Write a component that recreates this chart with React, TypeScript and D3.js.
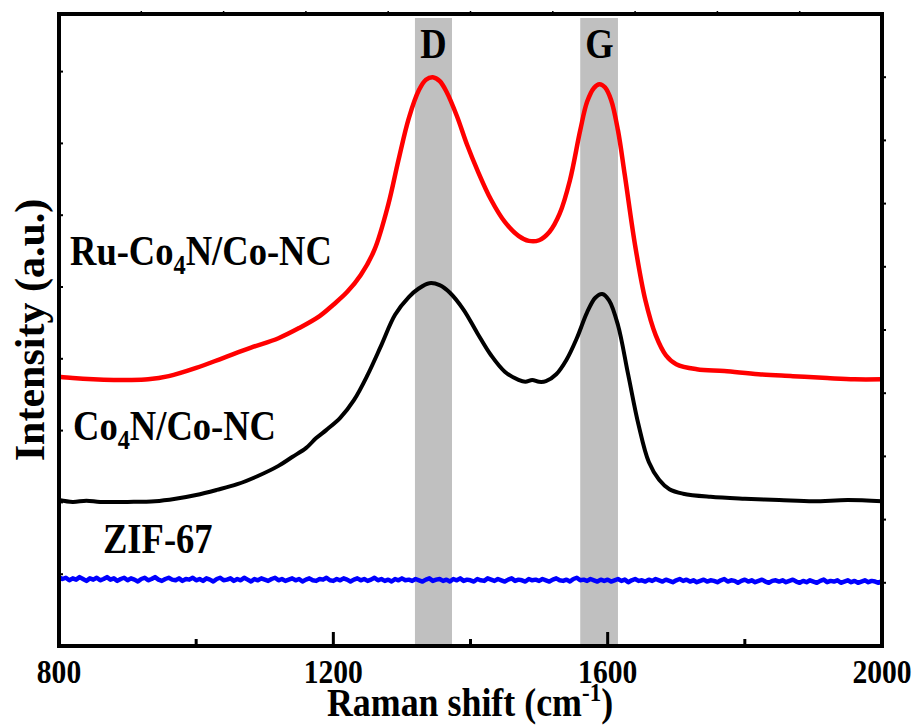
import React from "react";
import * as d3 from "d3";

const xTickLabels = [800, 1200, 1600, 2000];
const xMinorTicks = [1000, 1400, 1800];
const xMajorTicks = [1200, 1600];
const bandD = [1319, 1373];
const bandG = [1560, 1615];

const redX = [800, 820, 850, 880, 900, 930, 960, 1000, 1040, 1080, 1120, 1150, 1180, 1200, 1220, 1240, 1260, 1280, 1295, 1310, 1325, 1335, 1345, 1355, 1365, 1380, 1395, 1410, 1430, 1450, 1470, 1485, 1500, 1515, 1530, 1545, 1560, 1570, 1580, 1588, 1596, 1605, 1615, 1625, 1640, 1655, 1670, 1685, 1700, 1730, 1770, 1820, 1870, 1920, 1960, 2000];
const redY = [42.6, 42.4, 42.2, 42.1, 42.1, 42.2, 42.7, 44.0, 45.6, 47.2, 48.7, 50.3, 52.2, 54.0, 56.0, 58.7, 62.7, 69.8, 76.9, 83.5, 88.0, 89.6, 90.0, 89.4, 87.7, 83.9, 79.3, 75.3, 70.6, 67.1, 64.9, 64.1, 64.2, 65.5, 68.4, 73.7, 81.6, 86.1, 88.3, 88.9, 88.4, 86.4, 81.6, 74.5, 63.4, 54.7, 49.2, 46.0, 44.6, 43.8, 43.5, 43.0, 42.7, 42.4, 42.2, 42.2];

const blackX = [800, 820, 840, 860, 900, 940, 970, 1000, 1030, 1060, 1090, 1120, 1140, 1160, 1175, 1190, 1210, 1230, 1250, 1270, 1290, 1310, 1325, 1340, 1355, 1370, 1390, 1410, 1430, 1450, 1470, 1480, 1490, 1500, 1510, 1525, 1540, 1555, 1570, 1582, 1592, 1602, 1615, 1630, 1645, 1660, 1675, 1690, 1710, 1750, 1800, 1850, 1900, 1950, 2000];
const blackY = [23.1, 22.8, 23.0, 22.8, 22.8, 22.9, 23.3, 23.9, 24.7, 25.6, 26.9, 28.5, 29.9, 31.3, 32.9, 34.2, 36.1, 38.9, 42.9, 47.6, 52.4, 55.2, 56.6, 57.4, 57.1, 55.9, 53.2, 49.5, 46.0, 43.4, 42.1, 41.8, 42.1, 41.8, 41.9, 43.0, 45.3, 48.7, 52.8, 55.1, 55.7, 54.7, 50.8, 42.9, 35.0, 29.1, 26.3, 24.8, 24.1, 23.6, 23.3, 23.1, 22.9, 23.1, 22.9];

const blueStart = 800;
const blueStep = 5;
const blueY = [
  10.9, 10.6, 10.8, 10.4, 10.7, 10.5, 10.9, 10.6, 10.3, 10.7,
  10.5, 10.8, 10.4, 10.6, 10.9, 10.5, 10.7, 10.3, 10.6, 10.8,
  10.4, 10.7, 10.5, 10.2, 10.6, 10.8, 10.4, 10.6, 10.9, 10.5,
  10.3, 10.6, 10.8, 10.5, 10.4, 10.7, 10.3, 10.6, 10.5, 10.8,
  10.4, 10.6, 10.3, 10.7, 10.5, 10.2, 10.6, 10.8, 10.4, 10.5,
  10.7, 10.3, 10.6, 10.4, 10.8, 10.5, 10.2, 10.6, 10.4, 10.7,
  10.5, 10.3, 10.6, 10.8, 10.4, 10.6, 10.3, 10.5, 10.7, 10.4,
  10.6, 10.2, 10.5, 10.7, 10.4, 10.3, 10.6, 10.5, 10.8, 10.4,
  10.3, 10.6, 10.4, 10.7, 10.5, 10.2, 10.5, 10.7, 10.4, 10.6,
  10.3, 10.5, 10.8, 10.4, 10.6, 10.3, 10.5, 10.2, 10.6, 10.4,
  10.7, 10.4, 10.5, 10.3, 10.6, 10.4, 10.2, 10.5, 10.7, 10.3,
  10.5, 10.6, 10.3, 10.5, 10.2, 10.6, 10.4, 10.7, 10.3, 10.5,
  10.4, 10.2, 10.6, 10.4, 10.3, 10.7, 10.5, 10.3, 10.6, 10.4,
  10.2, 10.5, 10.7, 10.3, 10.5, 10.4, 10.2, 10.6, 10.4, 10.5,
  10.3, 10.6, 10.4, 10.2, 10.5, 10.7, 10.4, 10.3, 10.5, 10.2,
  10.6, 10.8, 10.4, 10.5, 10.3, 10.6, 10.4, 10.2, 10.5, 10.3,
  10.5, 10.2, 10.4, 10.6, 10.3, 10.5, 10.1, 10.4, 10.6, 10.3,
  10.4, 10.2, 10.5, 10.3, 10.6, 10.4, 10.2, 10.5, 10.3, 10.1,
  10.4, 10.6, 10.3, 10.5, 10.2, 10.4, 10.1, 10.3, 10.5, 10.2,
  10.4, 10.3, 10.1, 10.4, 10.6, 10.2, 10.4, 10.3, 10.0, 10.3,
  10.5, 10.2, 10.4, 10.1, 10.3, 10.5, 10.2, 10.0, 10.3, 10.4,
  10.2, 10.4, 10.1, 10.3, 10.5, 10.2, 10.0, 10.3, 10.1, 10.4,
  10.2, 10.0, 10.3, 10.5, 10.1, 10.3, 10.2, 10.4, 10.0, 10.2,
  10.4, 10.1, 10.3, 10.0, 10.2, 10.4, 10.1, 10.3, 10.2, 10.0,
  10.3,
];

const leftTickCount = [1, 2, 3, 4, 5, 6, 7, 8];
const rightTickCount = [1, 2, 3, 4, 5, 6, 7, 8, 9];
const topTickCount = [1, 2, 3, 4, 5, 6, 7, 8, 9];

const W = 916, H = 726;
const L = 59, R = 882, T = 14, B = 646;
const SX = 0.87;
const FONT = "'Liberation Serif', 'Times New Roman', serif";

export default function App() {
  const x = d3.scaleLinear().domain([800, 2000]).range([L, R]);
  const y = d3.scaleLinear().domain([0, 100]).range([B, T]);
  const yLeft = d3.scaleLinear().domain([0, (B - T) / 71.8]).range([B, T]);
  const yRight = d3.scaleLinear().domain([0, 10]).range([B, T]);
  const xTop = d3.scaleLinear().domain([0, 10]).range([L, R]);

  const smooth = d3
    .line<[number, number]>()
    .x((d) => x(d[0]))
    .y((d) => y(d[1]))
    .curve(d3.curveCatmullRom.alpha(0.5));
  const lin = d3
    .line<[number, number]>()
    .x((d) => x(d[0]))
    .y((d) => y(d[1]));

  const red = redX.map((v, i) => [v, redY[i]] as [number, number]);
  const black = blackX.map((v, i) => [v, blackY[i]] as [number, number]);
  const blue = blueY.map((v, i) => [blueStart + i * blueStep, v] as [number, number]);

  const sq = (tx: number, ty: number, s: number = SX) => `translate(${tx},${ty}) scale(${s},1)`;

  return (
    <svg width={W} height={H} style={{ position: "absolute", left: 0, top: 0, background: "#fff" }} fontFamily={FONT} fontWeight="bold">
      {[bandD, bandG].map((b, i) => (
        <rect key={i} x={x(b[0])} y={18} width={x(b[1]) - x(b[0])} height={B - 18} fill="#c0c0c0" />
      ))}
      <text transform={sq(x(1346), 58)} textAnchor="middle" fontSize={42}>D</text>
      <text transform={sq(x(1588), 58)} textAnchor="middle" fontSize={42}>G</text>

      <path d={lin(blue) || ""} fill="none" stroke="#0000ff" strokeWidth={4.5} strokeLinejoin="round" />
      <path d={smooth(black) || ""} fill="none" stroke="#000" strokeWidth={4} strokeLinejoin="round" />
      <path d={smooth(red) || ""} fill="none" stroke="#ff0000" strokeWidth={4.5} strokeLinejoin="round" />

      <rect x={L} y={T} width={R - L} height={B - T} fill="none" stroke="#000" strokeWidth={4} />

      {xMajorTicks.map((t) => (
        <line key={"M" + t} x1={x(t)} x2={x(t)} y1={B} y2={B - 14} stroke="#000" strokeWidth={3} />
      ))}
      {xMinorTicks.map((t) => (
        <line key={"m" + t} x1={x(t)} x2={x(t)} y1={B} y2={B - 7} stroke="#000" strokeWidth={3} />
      ))}
      {topTickCount.map((t) => (
        <line key={"t" + t} x1={xTop(t)} x2={xTop(t)} y1={T} y2={T - 3} stroke="#000" strokeWidth={1.5} />
      ))}
      {leftTickCount.map((t) => (
        <line key={"l" + t} x1={L} x2={L + 4} y1={yLeft(t)} y2={yLeft(t)} stroke="#000" strokeWidth={2} />
      ))}
      {rightTickCount.map((t) => (
        <line key={"r" + t} x1={R} x2={R + 4} y1={yRight(t)} y2={yRight(t)} stroke="#000" strokeWidth={2} />
      ))}

      {xTickLabels.map((t) => (
        <text key={"lab" + t} transform={sq(x(t), 683)} textAnchor="middle" fontSize={34}>{t}</text>
      ))}

      <text transform={sq(470, 716, 0.92)} textAnchor="middle" fontSize={39}>
        Raman shift (cm<tspan dy={-15} fontSize={25}>-1</tspan><tspan dy={15}>)</tspan>
      </text>

      <text transform={`translate(44,330) rotate(-90)`} textAnchor="middle" fontSize={42}>
        Intensity (a.u.)
      </text>

      <text transform={sq(70, 265)} fontSize={42}>
        Ru-Co<tspan dy={9} fontSize={28}>4</tspan><tspan dy={-9}>N/Co-NC</tspan>
      </text>
      <text transform={sq(73, 440)} fontSize={42}>
        Co<tspan dy={9} fontSize={28}>4</tspan><tspan dy={-9}>N/Co-NC</tspan>
      </text>
      <text transform={sq(103, 553)} fontSize={42}>ZIF-67</text>
    </svg>
  );
}
